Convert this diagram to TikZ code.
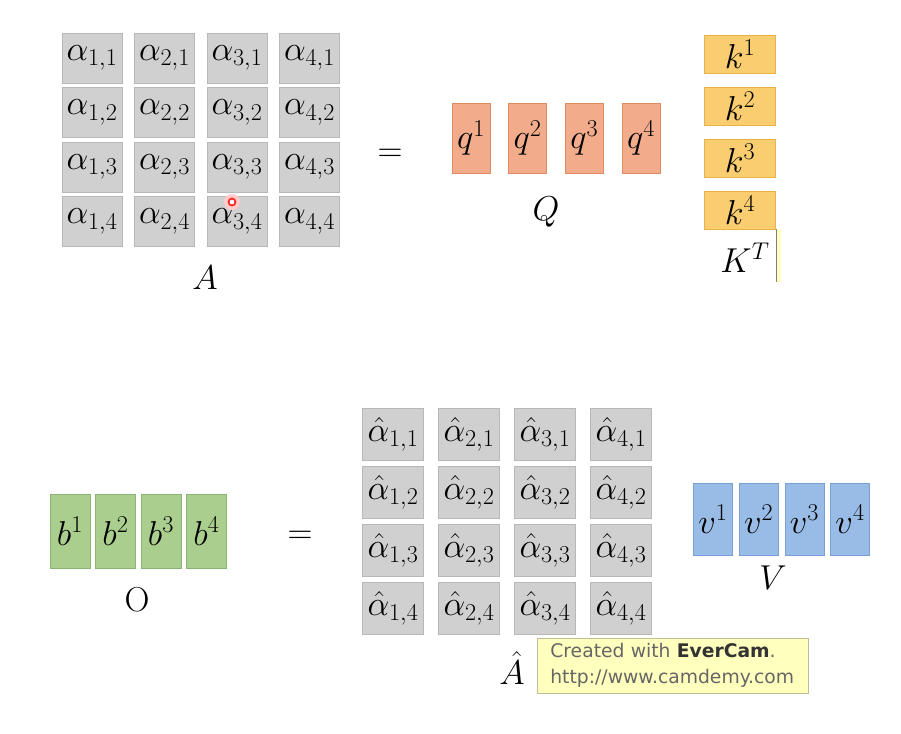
\documentclass[tikz,border=0pt]{standalone}
\usepackage{fix-cm}
\usepackage{amsmath}
\usepackage{fontspec}
\newfontfamily\wmfont{DejaVu Sans}
\usepackage{tikz}
\usetikzlibrary{positioning}

\definecolor{cellgray}{RGB}{208,208,208}
\definecolor{cellline}{RGB}{184,184,184}
\definecolor{qfill}{RGB}{242,172,140}
\definecolor{qline}{RGB}{222,140,100}
\definecolor{kfill}{RGB}{250,206,112}
\definecolor{kline}{RGB}{232,178,72}
\definecolor{bfill}{RGB}{170,206,142}
\definecolor{bline}{RGB}{140,180,115}
\definecolor{vfill}{RGB}{152,188,230}
\definecolor{vline}{RGB}{120,160,210}
\definecolor{wmfill}{RGB}{255,255,190}
\definecolor{wmline}{RGB}{190,190,150}

\begin{document}
\begin{tikzpicture}[x=0.03cm,y=-0.03cm,
  font=\fontsize{29.5}{32}\selectfont,
  acell/.style={rectangle,draw=cellline,fill=cellgray,inner sep=0pt,
    minimum width=1.8cm,minimum height=1.5cm},
  hcell/.style={acell,minimum width=1.83cm,minimum height=1.56cm},
  qbox/.style={rectangle,draw=qline,fill=qfill,inner sep=0pt,
    minimum width=1.14cm,minimum height=2.1cm},
  kbox/.style={rectangle,draw=kline,fill=kfill,inner sep=0pt,
    minimum width=2.13cm,minimum height=1.14cm},
  bbox/.style={rectangle,draw=bline,fill=bfill,inner sep=0pt,
    minimum width=1.2cm,minimum height=2.22cm},
  vbox/.style={rectangle,draw=vline,fill=vfill,inner sep=0pt,
    minimum width=1.17cm,minimum height=2.16cm},
  mlabel/.style={inner sep=0pt}]
  \useasboundingbox (0,0) rectangle (901,734);

  % A = Q K^T
  \foreach \i in {1,...,4}
    \foreach \j in {1,...,4}
      \node[acell] (a-\i-\j) at ({92+(\i-1)*72.5},{58+(\j-1)*54.5}) {$\alpha_{\i,\j}$};
  \node[mlabel] (labA) at (205,278) {$A$};
  \node[mlabel] (eqtop) at (390,155) {$=$};
  \foreach \i in {1,...,4}
    \node[qbox] (q-\i) at ({471+(\i-1)*56.7},138) {$q^{\i}$};
  \node[mlabel] (labQ) at (546,212) {$Q$};
  \foreach \i in {1,...,4}
    \node[kbox] (k-\i) at (740,{54+(\i-1)*52}) {$k^{\i}$};
  \node[mlabel] (labK) at (745,258) {$K^{T}$};
  \fill[wmfill] (776,229) rectangle (781,282);
  \draw[gray] (776,229) -- (776,282);

  % cursor mark
  \fill[red!20] (232,202) circle (8);
  \filldraw[draw=red!85,fill=white,line width=1.5pt] (232,202) circle (3.5);

  % O = A-hat V
  \foreach \i in {1,...,4}
    \node[bbox] (b-\i) at ({70+(\i-1)*45.5},531) {$b^{\i}$};
  \node[mlabel] (labO) at (137,600) {O};
  \node[mlabel] (eqbot) at (300,537) {$=$};
  \foreach \i in {1,...,4}
    \foreach \j in {1,...,4}
      \node[hcell] (h-\i-\j) at ({393+(\i-1)*76},{434+(\j-1)*58}) {$\hat{\alpha}_{\i,\j}$};
  \node[mlabel] (labAh) at (512,668) {$\hat{A}$};
  \foreach \i in {1,...,4}
    \node[vbox] (v-\i) at ({713+(\i-1)*45.7},519) {$v^{\i}$};
  \node[mlabel] (labV) at (773,578) {$V$};

  % watermark
  \node[rectangle,draw=wmline,fill=wmfill,inner xsep=0.4cm,text width=7.33cm,
    minimum height=1.65cm,align=left,text=black!60,
    font=\wmfont\fontsize{16}{22}\selectfont]
    (wm) at (672.5,665.5) {Created with \textbf{\color{black!80}EverCam}.\\http://www.camdemy.com};
\end{tikzpicture}
\end{document}
